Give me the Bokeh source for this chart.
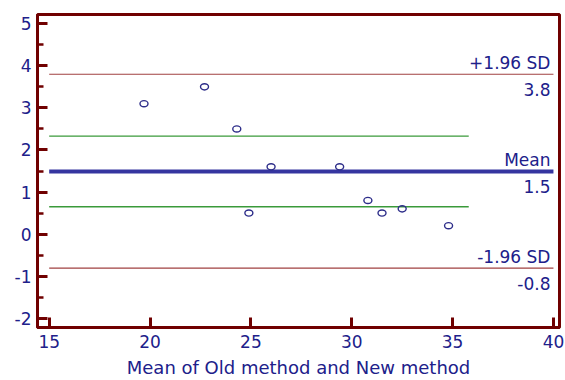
from bokeh.plotting import figure
from bokeh.models import ColumnDataSource, Range1d, SingleIntervalTicker
from bokeh.core.properties import value
from bokeh.embed import file_html
from bokeh.resources import INLINE

# ---- data (Bland-Altman plot) ----
mean_of_methods = [19.7, 22.7, 24.3, 26.0, 29.4, 24.9, 30.8, 31.5, 32.5, 34.8]
difference = [3.1, 3.5, 2.5, 1.6, 1.6, 0.5, 0.8, 0.5, 0.6, 0.2]

mean_diff = 1.49
upper_loa = 3.80
lower_loa = -0.81
ci_upper = 2.33
ci_lower = 0.65

line_start = 15
line_end = 40
ci_end = 35.8

name_labels = ["+1.96 SD", "Mean", "-1.96 SD"]
value_labels = ["3.8", "1.5", "-0.8"]
label_levels = [upper_loa, mean_diff, lower_loa]

x_title = "Mean of Old method and New method"

# ---- styles ----
MAROON = "#700000"
NAVY = "#20208a"
FONT = "DejaVu Sans"

p = figure(width=565, height=380,
           x_range=Range1d(14.42, 40.3), y_range=Range1d(-2.22, 5.22),
           output_backend="svg", toolbar_location=None, title=None,
           min_border_left=37, min_border_right=6, min_border_top=14,
           min_border_bottom=50)
p.xgrid.visible = False
p.ygrid.visible = False
p.background_fill_color = "white"
p.border_fill_color = "white"
p.outline_line_color = MAROON
p.outline_line_width = 3

p.xaxis.ticker = SingleIntervalTicker(interval=5, num_minor_ticks=0)
p.yaxis.ticker = SingleIntervalTicker(interval=1, num_minor_ticks=2)
p.yaxis.major_label_overrides = {-1: "-1", -2: "-2"}

for ax in (p.xaxis[0], p.yaxis[0]):
    ax.axis_line_color = MAROON
    ax.axis_line_width = 3
    ax.major_tick_line_color = MAROON
    ax.major_tick_line_width = 3
    ax.major_tick_in = 10
    ax.major_tick_out = 0
    ax.minor_tick_line_color = MAROON
    ax.minor_tick_line_width = 2.5
    ax.minor_tick_in = 6
    ax.minor_tick_out = 0
    ax.major_label_text_color = NAVY
    ax.major_label_text_font = FONT
    ax.major_label_text_font_size = "17px"
    ax.major_label_standoff = 6
p.xaxis.major_label_standoff = 7

p.xaxis.axis_label = x_title
p.xaxis.axis_label_text_font = FONT
p.xaxis.axis_label_text_font_size = "18px"
p.xaxis.axis_label_text_font_style = "normal"
p.xaxis.axis_label_text_color = NAVY
p.xaxis.axis_label_standoff = 6

# limits of agreement
p.segment(x0=[line_start, line_start], y0=[upper_loa, lower_loa],
          x1=[line_end, line_end], y1=[upper_loa, lower_loa],
          line_color="#a04040", line_width=1.2)
# confidence interval of mean
p.segment(x0=[line_start, line_start], y0=[ci_upper, ci_lower],
          x1=[ci_end, ci_end], y1=[ci_upper, ci_lower],
          line_color="#3a9a3a", line_width=1.4)
# mean difference
p.segment(x0=[line_start], y0=[mean_diff], x1=[line_end], y1=[mean_diff],
          line_color="#3535a0", line_width=4)

# data points (open ellipses as in the stretched reference)
src = ColumnDataSource(dict(x=mean_of_methods, y=difference))
p.ellipse(x="x", y="y", width=8, height=6.2, width_units="screen",
          height_units="screen", source=src, fill_color=None,
          line_color="#2e2e8a", line_width=1.4)

lab_src = ColumnDataSource(dict(x=[line_end] * 3, y=label_levels,
                                name=name_labels, val=value_labels))
p.text(x="x", y="y", text="name", source=lab_src, text_align="right",
       text_baseline="middle", x_offset=-3, y_offset=-11.5,
       text_font=value(FONT), text_font_size=value("17px"), text_color=NAVY)
p.text(x="x", y="y", text="val", source=lab_src, text_align="right",
       text_baseline="middle", x_offset=-3, y_offset=15,
       text_font=value(FONT), text_font_size=value("17px"), text_color=NAVY)

open("out.html", "w").write(file_html(p, INLINE))
